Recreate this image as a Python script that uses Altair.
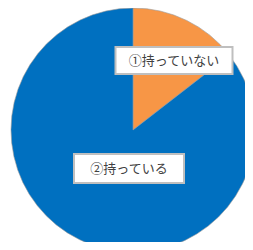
import altair as alt
import pandas as pd

# data
categories = ["①持っていない", "②持っている"]
values = [14.5, 85.5]
colors = ["#F79646", "#0070C0"]

# label layout (pixel positions in plot area, from the picture)
label_cx = [166.0, 121.0]
label_cy = [52.5, 160.5]
box_w = [117, 110]
box_h = [27, 29]

df = pd.DataFrame({"cat": categories, "val": values, "ord": list(range(len(categories)))})
lab = pd.DataFrame({
    "cat": categories,
    "cx": label_cx,
    "cy": label_cy,
    "x1": [c - w / 2 for c, w in zip(label_cx, box_w)],
    "x2": [c + w / 2 for c, w in zip(label_cx, box_w)],
    "y1": [c - h / 2 for c, h in zip(label_cy, box_h)],
    "y2": [c + h / 2 for c, h in zip(label_cy, box_h)],
})

pie = alt.Chart(df).mark_arc(outerRadius=122, stroke="#9a9a9a", strokeWidth=0.6).encode(
    theta=alt.Theta("val:Q", stack=True),
    color=alt.Color("cat:N", scale=alt.Scale(domain=categories, range=colors), legend=None),
    order=alt.Order("ord:Q"),
    x=alt.value(125),
    y=alt.value(122),
)

boxes = alt.Chart(lab).mark_rect(fill="white", stroke="#BFBFBF", strokeWidth=2).encode(
    x=alt.X("x1:Q", scale=None, axis=None),
    x2="x2:Q",
    y=alt.Y("y1:Q", scale=None, axis=None),
    y2="y2:Q",
)

texts = alt.Chart(lab).mark_text(font="Noto Sans CJK JP", fontSize=13, color="#404040").encode(
    x=alt.X("cx:Q", scale=None, axis=None),
    y=alt.Y("cy:Q", scale=None, axis=None),
    text="cat:N",
)

chart = alt.layer(pie, boxes, texts).properties(
    width=237, height=234, padding=0, autosize="none"
).configure_view(strokeWidth=0)

chart.save("out.html", embed_options={"renderer": "svg", "actions": False})
